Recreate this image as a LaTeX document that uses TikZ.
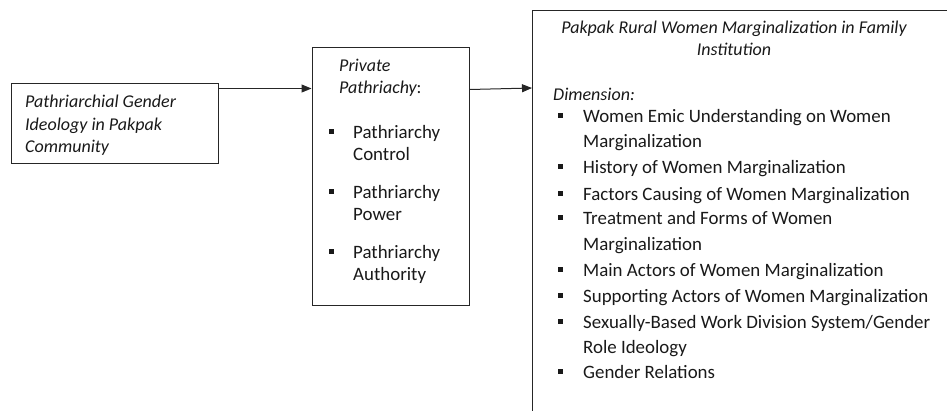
\documentclass[tikz,border=0pt]{standalone}
\usepackage{fontspec}
\setmainfont{Carlito}
\usetikzlibrary{arrows.meta}
\begin{document}
\begin{tikzpicture}[x=1pt,y=-1pt,
  box/.style={draw=black!85,line width=1pt,rectangle,inner sep=0pt},
  arr/.style={draw=black!85,line width=1pt,-{Triangle[length=10pt,width=8pt]}},
  itxt/.style={anchor=base west,inner sep=0pt,text=black!90,font=\fontsize{18}{22}\selectfont\itshape},
  txt/.style={anchor=base west,inner sep=0pt,text=black!90,font=\fontsize{18.9}{22}\selectfont},
  ctxt/.style={anchor=base,inner sep=0pt,text=black!90,font=\fontsize{18}{22}\selectfont\itshape},
  bul/.style={fill=black!90,minimum size=5pt,inner sep=0pt,rectangle}]
\useasboundingbox (0,0) rectangle (947,410);
\clip (0,0) rectangle (947,410);
% boxes
\node[box,minimum width=207pt,minimum height=80pt] (b1) at (114.5,123) {};
\node[box,minimum width=157pt,minimum height=258pt] (b2) at (390.5,176) {};
\node[box,anchor=north west,minimum width=600pt,minimum height=600pt] (b3) at (532,10) {};
% box 1 text
\node[itxt] (t11) at (25,107) {Pathriarchial Gender};
\node[itxt] (t12) at (25,130) {Ideology in Pakpak};
\node[itxt] (t13) at (25,152) {Community};
% box 2 text
\node[itxt] (t21) at (339,71) {Private};
\node[itxt] (t22) at (339,93) {Pathriachy\upshape:};
\node[txt] (t23) at (353,138) {Pathriarchy};
\node[txt] (t24) at (353,160) {Control};
\node[txt] (t25) at (353,198) {Pathriarchy};
\node[txt] (t26) at (353,220) {Power};
\node[txt] (t27) at (353,258) {Pathriarchy};
\node[txt] (t28) at (353,280) {Authority};
\foreach \y [count=\i] in {138,198,258}
  \node[bul] (p\i) at (331,\y-7) {};
% box 3 text
\node[ctxt] (t31) at (734,33) {Pakpak Rural Women Marginalization in Family};
\node[ctxt] (t32) at (734,55) {Institution};
\node[itxt] (t33) at (553,100) {Dimension:};
\foreach \y/\s [count=\i] in {
  122/{Women Emic Understanding on Women},
  147/{Marginalization},
  173/{History of Women Marginalization},
  200/{Factors Causing of Women Marginalization},
  224/{Treatment and Forms of Women},
  250/{Marginalization},
  276/{Main Actors of Women Marginalization},
  302/{Supporting Actors of Women Marginalization},
  328/{Sexually-Based Work Division System/Gender},
  353/{Role Ideology},
  378/{Gender Relations}}
  \node[txt] (l\i) at (583,\y) {\s};
\foreach \y [count=\i] in {122,173,200,224,276,302,328,378}
  \node[bul] (q\i) at (560,\y-6.5) {};
% arrows
\draw[arr] ([yshift=-6pt]b1.north east) -- ([yshift=-42pt]b2.north west);
\draw[arr] ([yshift=-43pt]b2.north east) -- ([yshift=-78pt]b3.north west);
\end{tikzpicture}
\end{document}
